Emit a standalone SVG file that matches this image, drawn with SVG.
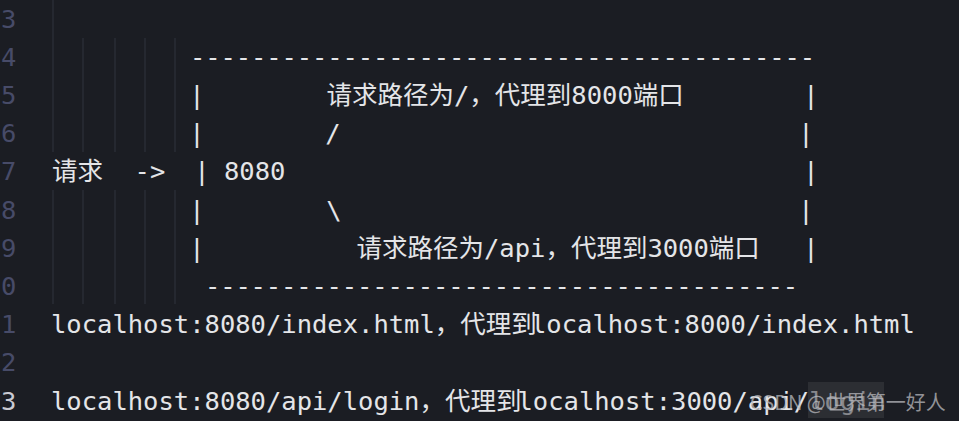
<svg xmlns="http://www.w3.org/2000/svg" width="959" height="421" viewBox="0 0 959 421">
  <style>
    .code { font-family: "DejaVu Sans Mono", "Noto Sans CJK SC", monospace; font-size: 25.5px; fill: #e4e5e8; }
    .ln { font-family: "DejaVu Sans Mono", monospace; font-size: 25.5px; fill: #474b68; }
    .ln-cur { fill: #c9cad2; }
    .guide { stroke: #2e3139; stroke-width: 1.2; }
    .wm { font-family: "Noto Sans CJK SC", "Noto Sans", sans-serif; font-size: 20px; fill: #b9b9be; fill-opacity: 0.75; }
  </style>
  <rect width="959" height="421" fill="#1b1d23"/>

  <g id="line-numbers">
    <text class="ln" x="1" y="27.5">3</text>
    <text class="ln" x="1" y="65.7">4</text>
    <text class="ln" x="1" y="103.9">5</text>
    <text class="ln" x="1" y="142.1">6</text>
    <text class="ln" x="1" y="180.3">7</text>
    <text class="ln" x="1" y="218.5">8</text>
    <text class="ln" x="1" y="256.7">9</text>
    <text class="ln" x="1" y="294.9">0</text>
    <text class="ln" x="1" y="333.1">1</text>
    <text class="ln" x="1" y="371.3">2</text>
    <text class="ln ln-cur" x="1" y="409.5">3</text>
  </g>

  <g id="indent-guides">
    <line class="guide" x1="53" y1="0" x2="53" y2="152"/>
    <line class="guide" x1="83" y1="38" x2="83" y2="152"/>
    <line class="guide" x1="115" y1="38" x2="115" y2="152"/>
    <line class="guide" x1="145" y1="38" x2="145" y2="152"/>
    <line class="guide" x1="175" y1="38" x2="175" y2="152"/>
    <line class="guide" x1="53" y1="190" x2="53" y2="304"/>
    <line class="guide" x1="83" y1="190" x2="83" y2="304"/>
    <line class="guide" x1="115" y1="190" x2="115" y2="304"/>
    <line class="guide" x1="145" y1="190" x2="145" y2="304"/>
    <line class="guide" x1="175" y1="190" x2="175" y2="304"/>
  </g>

  <g id="proxy-box">
    <text class="code" x="190" y="65.7" textLength="625" lengthAdjust="spacing">-----------------------------------------</text>
    <text class="code" x="189.3" y="103.9">|</text>
    <text class="code" x="803.3" y="103.9">|</text>
    <text class="code" x="189.3" y="142.1">|</text>
    <text class="code" x="798.3" y="142.1">|</text>
    <text class="code" x="194.3" y="180.3">|</text>
    <text class="code" x="803.3" y="180.3">|</text>
    <text class="code" x="189.3" y="218.5">|</text>
    <text class="code" x="798.3" y="218.5">|</text>
    <text class="code" x="189.3" y="256.7">|</text>
    <text class="code" x="803.3" y="256.7">|</text>
    <text class="code" x="205" y="294.9" textLength="593" lengthAdjust="spacing">---------------------------------------</text>
  </g>

  <g id="request">
    <text class="code" x="52" y="180.3">请求</text>
    <text class="code" x="134.6" y="180.3">-&gt;</text>
  </g>

  <g id="port-8080">
    <text class="code" x="224" y="180.3">8080</text>
  </g>

  <g id="route-root">
    <text class="code" x="326.5" y="103.9">请求路径为/，代理到8000端口</text>
    <text class="code" x="325.3" y="142.1">/</text>
  </g>

  <g id="route-api">
    <text class="code" x="326.3" y="218.5">\</text>
    <text class="code" x="356.5" y="256.7">请求路径为/api，代理到3000端口</text>
  </g>

  <g id="examples">
    <text class="code" y="333.1"><tspan x="51">localhost:8080/index.html，代理到</tspan><tspan x="531">localhost:8000/index.html</tspan></text>
    <text class="code" y="409.5"><tspan x="51">localhost:8080/api/login，代理到</tspan><tspan x="517.5">localhost:3000/api/login</tspan></text>
  </g>

  <g id="watermark">
    <rect x="808" y="382" width="76" height="36" fill="#3a3c42" fill-opacity="0.55"/>
    <text class="wm" x="750" y="410">CSDN @世界第一好人</text>
  </g>
</svg>
